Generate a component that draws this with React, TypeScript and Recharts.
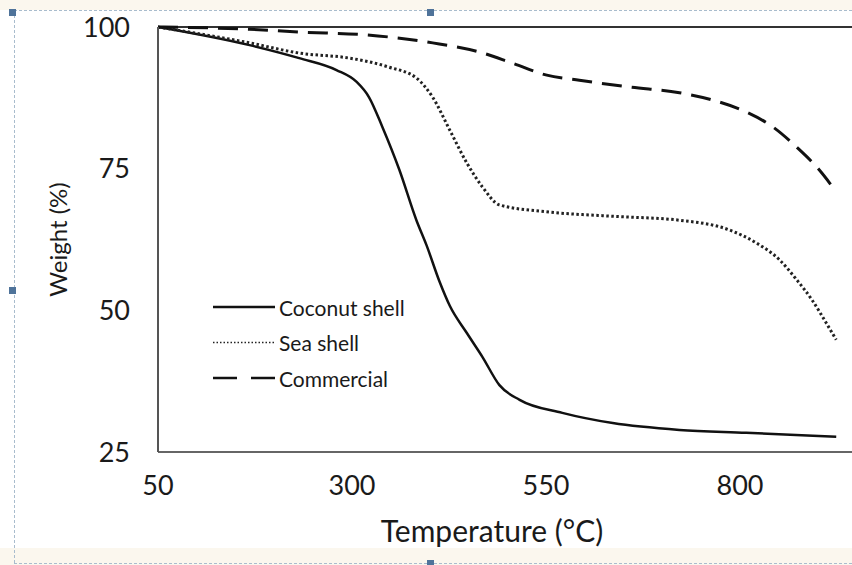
import { LineChart, Line, XAxis, YAxis, ReferenceLine, Legend } from "recharts";

// temperature (°C) / weight (%)
const coconutT = [50, 168, 232, 280, 306, 322, 339, 361, 383, 396, 413, 426, 448, 468, 490, 516, 571, 636, 722, 808, 924];
const coconutW = [100, 96.8, 94.5, 92.4, 90.3, 87.6, 82.4, 74.8, 65.9, 61.5, 55, 50.8, 46, 41.8, 36.8, 34.2, 31.9, 30.1, 28.9, 28.4, 27.7];

const seaT = [50, 168, 232, 297, 348, 383, 404, 426, 448, 468, 490, 550, 636, 722, 786, 821, 851, 873, 893, 911, 924];
const seaW = [100, 97.2, 95.4, 94.5, 92.9, 91, 87.6, 81.8, 76, 71.8, 68.6, 67.4, 66.6, 65.9, 64.2, 61.9, 58.9, 55.4, 51.8, 47.8, 44.8];

const commT = [50, 168, 232, 319, 404, 464, 507, 551, 593, 658, 722, 765, 808, 842, 873, 902, 924];
const commW = [100, 99.6, 99.1, 98.6, 97.2, 95.6, 93.6, 91.5, 90.6, 89.4, 88.4, 87.1, 85, 82.4, 78.8, 74.8, 70.9];

// axis runs on past the right edge of the picture, only these ticks show
const xTicks = [50, 300, 550, 800];
const yTicks = [25, 50, 75, 100];

const toRows = (t: number[], w: number[]) => t.map((v, i) => ({ t: v, w: w[i] }));

const series = [
  { name: "Coconut shell", data: toRows(coconutT, coconutW), color: "#111", width: 2.5, dash: undefined, legendDash: undefined },
  { name: "Sea shell", data: toRows(seaT, seaW), color: "#222", width: 3, dash: "2.5 2.5", legendDash: "1.5 2" },
  { name: "Commercial", data: toRows(commT, commW), color: "#111", width: 3, dash: "20 10", legendDash: "24 14" },
];

const FONT = "Lato, 'Open Sans', sans-serif";

function LegendBox() {
  return (
    <svg width={240} height={110} style={{ display: "block" }}>
      {series.map((s, i) => {
        const y = 17 + i * 35.5;
        return (
          <g key={s.name}>
            <line x1={0} x2={62} y1={y} y2={y} stroke={s.color} strokeWidth={s.name === "Sea shell" ? 1.5 : 2.5} strokeDasharray={s.legendDash} />
            <text x={66} y={y} dominantBaseline="central" fontFamily={FONT} fontSize={21} fill="#1a1a1a">
              {s.name}
            </text>
          </g>
        );
      })}
    </svg>
  );
}

export default function App() {
  return (
    <div style={{ position: "absolute", left: 0, top: 0, width: 852, height: 565, overflow: "hidden", background: "#fff" }}>
      {/* selection frame around the picture */}
      <div style={{ position: "absolute", left: 0, top: 0, width: 852, height: 10, background: "#fbf7ee" }} />
      <div style={{ position: "absolute", left: 0, top: 548, width: 852, height: 17, background: "#fbf7ee" }} />
      <div style={{ position: "absolute", left: 14, top: 10, width: 838, height: 0, borderTop: "1px dashed #a9bccd" }} />
      <div style={{ position: "absolute", left: 14, top: 10, width: 0, height: 553, borderLeft: "1px dashed #a9bccd" }} />
      <div style={{ position: "absolute", left: 14, top: 563, width: 838, height: 0, borderTop: "1px dashed #a9bccd" }} />

      <div style={{ position: "absolute", left: 0, top: 0 }}>
        <LineChart width={945} height={565} margin={{ top: 27, right: 11, left: 0, bottom: 23 }}>
          <XAxis
            dataKey="t"
            type="number"
            domain={[50, 1050]}
            ticks={xTicks}
            allowDataOverflow
            height={90}
            tickLine={false}
            tickSize={0}
            tickMargin={24}
            axisLine={{ stroke: "#666", strokeWidth: 2 }}
            tick={{ fill: "#1a1a1a", fontSize: 27, fontFamily: FONT }}
            label={{
              content: (p: any) => {
                const vb = p.viewBox;
                return (
                  <text x={vb.x + 334} y={vb.y + 78} textAnchor="middle" dominantBaseline="central" fontFamily={FONT} fontSize={30} fill="#1a1a1a">
                    Temperature (°C)
                  </text>
                );
              },
            }}
          />
          <YAxis
            type="number"
            domain={[25, 100]}
            ticks={yTicks}
            width={158}
            tickLine={false}
            tickSize={0}
            tickMargin={28}
            axisLine={{ stroke: "#555", strokeWidth: 2 }}
            tick={{ fill: "#1a1a1a", fontSize: 27, fontFamily: FONT }}
            label={{
              content: (p: any) => {
                const vb = p.viewBox;
                const cx = vb.x + 57;
                const cy = vb.y + vb.height / 2;
                return (
                  <text x={cx} y={cy} transform={`rotate(-90, ${cx}, ${cy})`} textAnchor="middle" dominantBaseline="central" fontFamily={FONT} fontSize={24} fill="#1a1a1a">
                    Weight (%)
                  </text>
                );
              },
            }}
          />
          <ReferenceLine y={100} stroke="#333" strokeWidth={2} />
          {series.map((s) => (
            <Line
              key={s.name}
              data={s.data}
              dataKey="w"
              name={s.name}
              type="monotone"
              stroke={s.color}
              strokeWidth={s.width}
              strokeDasharray={s.dash}
              dot={false}
              activeDot={false}
              isAnimationActive={false}
            />
          ))}
          <Legend
            layout="vertical"
            align="center"
            verticalAlign="middle"
            wrapperStyle={{ left: 213, top: 290, width: 240 }}
            content={() => <LegendBox />}
          />
        </LineChart>
      </div>

      {/* frame handles */}
      {[[9, 9], [427, 9], [9, 287], [427, 560]].map(([x, y]) => (
        <div key={`${x}-${y}`} style={{ position: "absolute", left: x, top: y, width: 7, height: 7, background: "#4f739a" }} />
      ))}
    </div>
  );
}
